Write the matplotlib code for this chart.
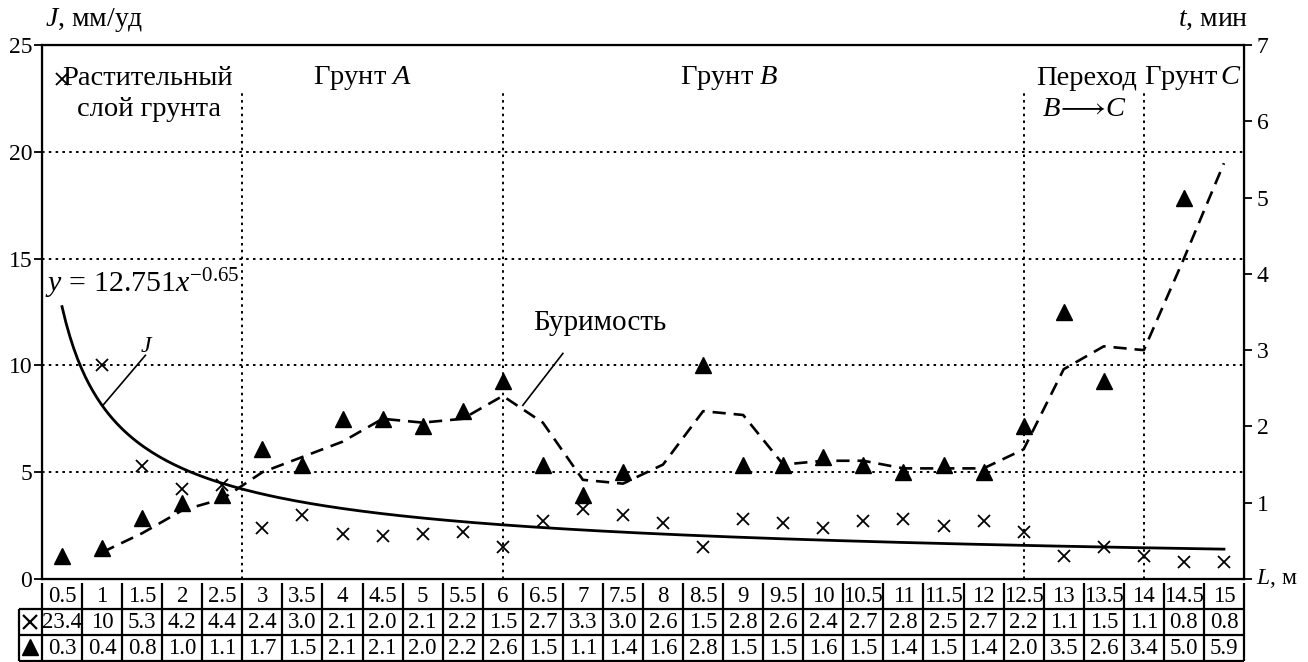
import matplotlib
matplotlib.use("Agg")
import matplotlib.pyplot as plt
import numpy as np

plt.rcParams['font.family'] = ['Liberation Serif', 'DejaVu Serif']
plt.rcParams['mathtext.fontset'] = 'custom'
plt.rcParams['mathtext.rm'] = 'Liberation Serif'
plt.rcParams['mathtext.it'] = 'Liberation Serif:italic'

# Data
L = [0.5, 1, 1.5, 2, 2.5, 3, 3.5, 4, 4.5, 5, 5.5, 6, 6.5, 7, 7.5,
     8, 8.5, 9, 9.5, 10, 10.5, 11, 11.5, 12, 12.5, 13, 13.5, 14, 14.5, 15]
J = [23.4, 10, 5.3, 4.2, 4.4, 2.4, 3.0, 2.1, 2.0, 2.1, 2.2, 1.5, 2.7, 3.3, 3.0,
     2.6, 1.5, 2.8, 2.6, 2.4, 2.7, 2.8, 2.5, 2.7, 2.2, 1.1, 1.5, 1.1, 0.8, 0.8]
t = [0.3, 0.4, 0.8, 1.0, 1.1, 1.7, 1.5, 2.1, 2.1, 2.0, 2.2, 2.6, 1.5, 1.1, 1.4,
     1.6, 2.8, 1.5, 1.5, 1.6, 1.5, 1.4, 1.5, 1.4, 2.0, 3.5, 2.6, 3.4, 5.0, 5.9]

# triangles actually drawn on the chart (no marker at L = 8, 14, 15)
t_marks = [0.3, 0.4, 0.8, 1.0, 1.1, 1.7, 1.5, 2.1, 2.1, 2.0, 2.2, 2.6, 1.5, 1.1, 1.4,
           np.nan, 2.8, 1.5, 1.5, 1.6, 1.5, 1.4, 1.5, 1.4, 2.0, 3.5, 2.6, np.nan, 5.0, np.nan]

# dashed "Буримость" curve (L = 1 .. 15)
L_bur = L[1:]
t_bur = [0.35, 0.6, 0.9, 1.05, 1.4, 1.6, 1.8, 2.1, 2.05, 2.1, 2.4, 2.05, 1.3, 1.25,
         1.5, 2.2, 2.15, 1.5, 1.55, 1.55, 1.45, 1.45, 1.45, 1.7, 2.75, 3.05, 3.0, 4.2, 5.45]

# power trendline shown on the chart: y = 12.751 x^-0.65 (x = point number)
coef_a = 12.751
coef_b = -0.65

zones = [2.75, 6, 12.5, 14]

W, H = 1308, 662
fig = plt.figure(figsize=(W / 100, H / 100), dpi=100)

x0, x1 = 42, 1244
ytop, ybot = 45, 579
ax = fig.add_axes([x0 / W, 1 - ybot / H, (x1 - x0) / W, (ybot - ytop) / H])
ax.set_xlim(0.25, 15.25)
ax.set_ylim(0, 25)
ax.set_yticks([0, 5, 10, 15, 20, 25])
ax.set_xticks([])
ax.tick_params(axis='y', direction='out', length=6, width=1.3, labelsize=17, pad=1)
for s in ax.spines.values():
    s.set_linewidth(1.6)

dot = (0, (1.3, 2.2))
for yv in [5, 10, 15, 20]:
    ax.axhline(yv, color='black', lw=1.4, ls=dot, zorder=1)
ax.vlines(zones, 0, 22.8, colors='black', lw=1.4, linestyles=[dot], zorder=1)

# J points and power curve
ax.plot(L, J, ls='none', marker='x', ms=9, mew=1.3, color='black', zorder=3)
xs = np.linspace(0.5, 15, 300)
ax.plot(xs, coef_a * (2 * xs) ** coef_b, color='black', lw=2, zorder=3)

# t axis
ax2 = ax.twinx()
ax2.set_ylim(0, 7)
ax2.set_yticks(range(8))
ax2.set_yticklabels([''] + [str(i) for i in range(1, 8)])
ax2.tick_params(axis='y', direction='out', length=6, width=1.3, labelsize=17, pad=3)
ax2.set_xticks([])
ax2.plot(L, t_marks, ls='none', marker='^', ms=11, color='black', zorder=3)
ax2.plot(L_bur, t_bur, color='black', lw=1.9, ls=(0, (5, 3)), zorder=3)

# texts
fs = 20.5
ax.text(1.56, 23.45, 'Растительный', ha='center', va='center', fontsize=fs)
ax.text(1.58, 22.0, 'слой грунта', ha='center', va='center', fontsize=fs)
ax.text(4.25, 23.45, 'Грунт $A$', ha='center', va='center', fontsize=fs)
ax.text(8.83, 23.45, 'Грунт $B$', ha='center', va='center', fontsize=fs)
ax.text(13.28, 23.45, 'Переход', ha='center', va='center', fontsize=fs)
ax.text(13.26, 22.0, r'$B\!\longrightarrow\! C$', ha='center', va='center', fontsize=fs)
ax.text(15.22, 23.45, 'Грунт$\\,C$', ha='right', va='center', fontsize=fs)

ax.text(0.29, 13.4, r'$y\,=\,12.751x^{-0.65}$', ha='left', va='baseline', fontsize=21.5)
ax.text(1.56, 10.9, '$J$', ha='center', va='center', fontsize=17)
ax.plot([1.01, 1.54], [8.13, 10.47], color='black', lw=1.2)
ax.text(6.375, 12.0, 'Буримость', ha='left', va='center', fontsize=21)
ax.plot([6.75, 6.25], [10.56, 8.13], color='black', lw=1.2)

fig.text(45 / W, 1 - 20 / H, '$J$, мм/уд', ha='left', va='center', fontsize=20)
fig.text(1248 / W, 1 - 20 / H, '$t$, мин', ha='right', va='center', fontsize=20)
fig.text(1256 / W, 1 - 579 / H, '$L$, м', ha='left', va='center', fontsize=17)

# table under the chart
tb = fig.add_axes([x0 / W, 1 / H, (x1 - x0) / W, 78 / H])
tb.set_xlim(0.25, 15.25)
tb.set_ylim(0, 3)
tb.axis('off')
xl = -0.04
edges = [0.25 + 0.5 * k for k in range(31)]
tb.vlines(edges, 0, 3, colors='black', lw=1.6, clip_on=False)
tb.vlines([xl], 0, 2, colors='black', lw=1.6, clip_on=False)
tb.hlines([0, 1, 2], xl, 15.25, colors='black', lw=1.6, clip_on=False)
tfs = 16.5
for i, lv in enumerate(L):
    tb.text(lv, 2.5, f'{lv:g}', ha='center', va='center', fontsize=tfs)
    tb.text(lv, 1.5, f'{J[i]:g}' if J[i] == 10 else f'{J[i]:.1f}', ha='center', va='center', fontsize=tfs)
    tb.text(lv, 0.5, f'{t[i]:.1f}', ha='center', va='center', fontsize=tfs)
tb.plot([(xl + 0.25) / 2], [1.5], marker='x', ms=10, mew=1.6, color='black', clip_on=False)
tb.plot([(xl + 0.25) / 2], [0.55], marker='^', ms=11, color='black', clip_on=False)

fig.savefig('out.png', dpi=100)
